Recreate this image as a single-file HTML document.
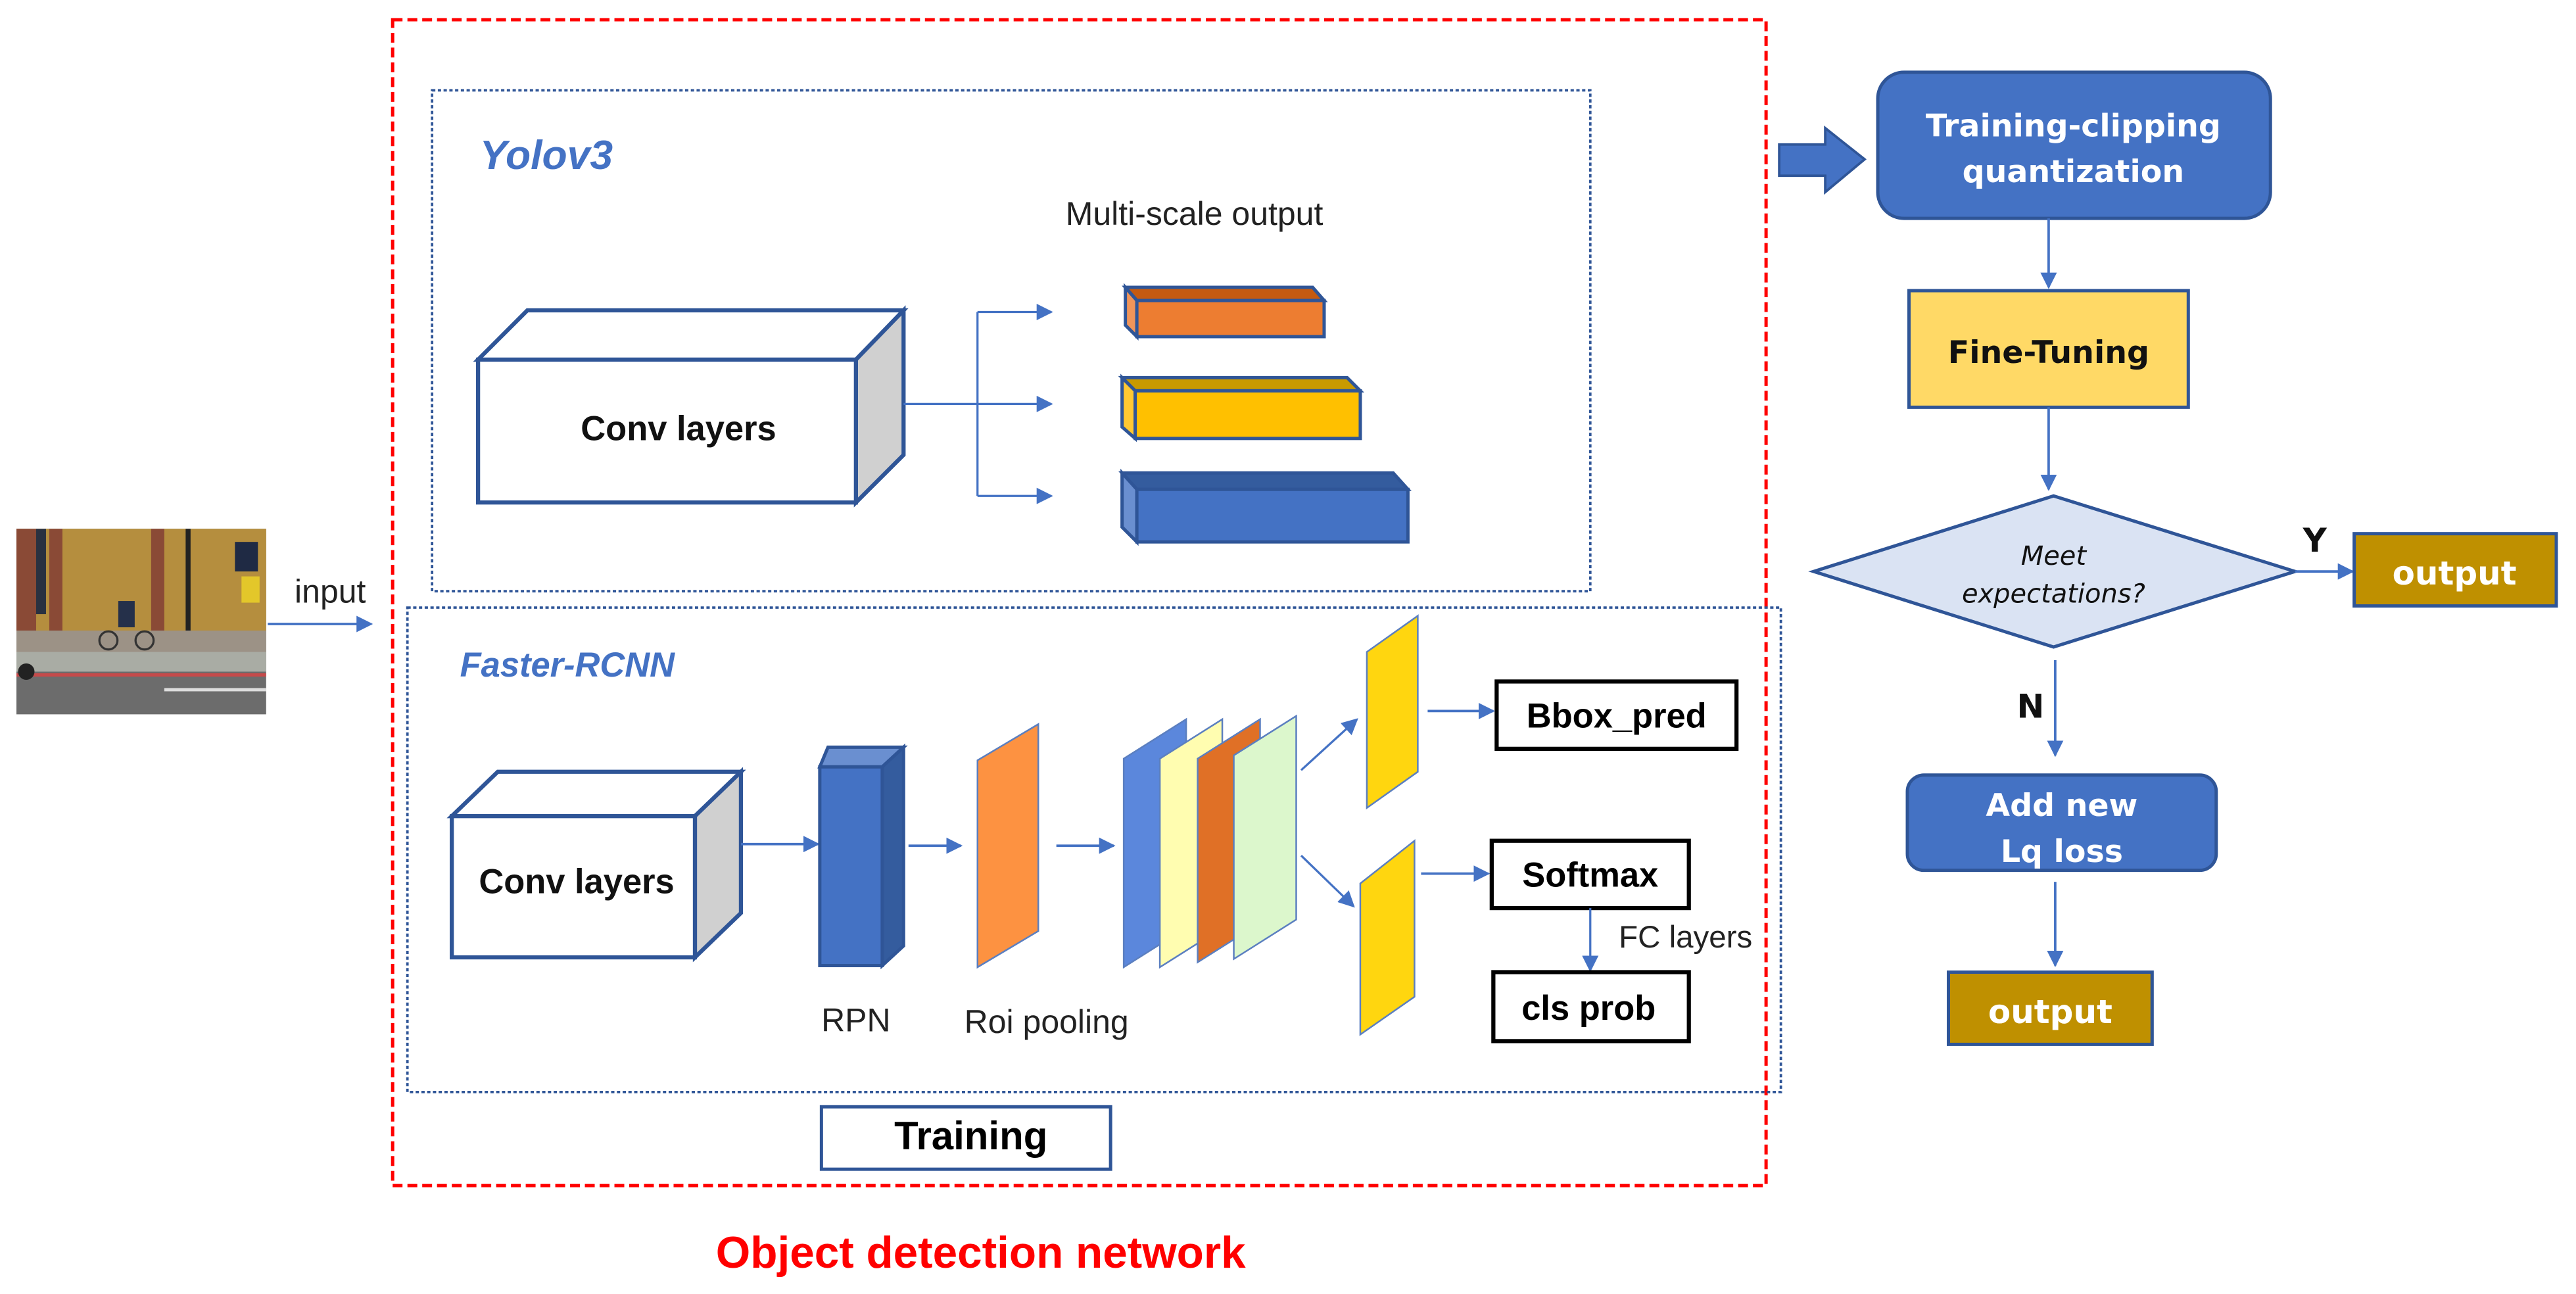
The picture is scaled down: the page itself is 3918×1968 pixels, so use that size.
<!DOCTYPE html>
<html><head><meta charset="utf-8"><style>
html,body{margin:0;padding:0;background:#fff;}
svg{display:block;}
.lib{font-family:"Liberation Sans",sans-serif;}
.dj{font-family:"DejaVu Sans","Liberation Sans",sans-serif;}
</style></head><body>
<svg width="3918" height="1968" viewBox="0 0 1568 788" preserveAspectRatio="none" xmlns="http://www.w3.org/2000/svg">
<defs>
<marker id="ar" markerWidth="10" markerHeight="10" refX="9" refY="5" orient="auto" markerUnits="userSpaceOnUse">
<path d="M0,0 L10,5 L0,10 Z" fill="#4472c4"/></marker>
</defs>
<rect width="1568" height="788" fill="#fff"/>

<!-- photo -->
<g>
<rect x="10" y="322" width="152" height="113" fill="#6c6c6c"/>
<rect x="10" y="322" width="152" height="62" fill="#b58e3e"/>
<rect x="10" y="322" width="12" height="62" fill="#8a4a36"/>
<rect x="22" y="322" width="6" height="52" fill="#2a3140"/>
<rect x="30" y="322" width="8" height="62" fill="#8a4a36"/>
<rect x="92" y="322" width="8" height="62" fill="#8a4a36"/>
<rect x="143" y="330" width="14" height="18" fill="#1f2a44"/>
<rect x="113" y="322" width="3" height="66" fill="#222"/>
<rect x="147" y="351" width="11" height="16" fill="#e3c72a"/>
<rect x="10" y="384" width="152" height="13" fill="#9c9286"/>
<rect x="10" y="397" width="152" height="12" fill="#a9aca4"/>
<rect x="10" y="410" width="152" height="2" fill="#c64a4a"/>
<rect x="100" y="419" width="62" height="2" fill="#ddd"/>
<circle cx="66" cy="390" r="5.5" fill="none" stroke="#333" stroke-width="1.3"/>
<circle cx="88" cy="390" r="5.5" fill="none" stroke="#333" stroke-width="1.3"/>
<rect x="72" y="366" width="10" height="16" fill="#25304a"/>
<circle cx="16" cy="409" r="5" fill="#222"/>
</g>
<line x1="163" y1="380" x2="226" y2="380" stroke="#4472c4" stroke-width="1.5" marker-end="url(#ar)"/>
<text x="201" y="367" font-size="20" text-anchor="middle" class="lib" fill="#222">input</text>

<!-- red dashed box -->
<rect x="239" y="12" width="836" height="710" fill="none" stroke="#ff0000" stroke-width="2" stroke-dasharray="6,3"/>
<!-- yolo box -->
<rect x="263" y="55" width="705" height="305" fill="none" stroke="#2f5597" stroke-width="1.5" stroke-dasharray="2,1.5"/>
<text x="292" y="103" font-size="25" font-weight="bold" font-style="italic" class="lib" fill="#4472c4">Yolov3</text>
<text x="727" y="137" font-size="20" text-anchor="middle" class="lib" fill="#222">Multi-scale output</text>

<!-- yolo conv -->
<polygon points="291,219 321,189 550,189 521,219" fill="#fff" stroke="#2f5597" stroke-width="2.5"/>
<polygon points="521,219 550,189 550,277 521,306" fill="#d0d0d0" stroke="#2f5597" stroke-width="2.5"/>
<rect x="291" y="219" width="230" height="87" fill="#fff" stroke="#2f5597" stroke-width="2.5"/>
<text x="413" y="268" font-size="21" font-weight="bold" text-anchor="middle" class="lib" fill="#111">Conv layers</text>
<line x1="550" y1="246" x2="595" y2="246" stroke="#4472c4" stroke-width="1.3"/>
<line x1="595" y1="190" x2="595" y2="302" stroke="#4472c4" stroke-width="1.3"/>
<line x1="595" y1="190" x2="640" y2="190" stroke="#4472c4" stroke-width="1.3" marker-end="url(#ar)"/>
<line x1="595" y1="246" x2="640" y2="246" stroke="#4472c4" stroke-width="1.3" marker-end="url(#ar)"/>
<line x1="595" y1="302" x2="640" y2="302" stroke="#4472c4" stroke-width="1.3" marker-end="url(#ar)"/>

<!-- multi-scale blocks -->
<g stroke="#2f5597" stroke-width="2">
<polygon points="685,175 799,175 806,183 692,183" fill="#c55a11"/>
<polygon points="685,175 692,183 692,205 685,198" fill="#f0955a"/>
<rect x="692" y="183" width="114" height="22" fill="#ed7d31"/>
<polygon points="683,230 820,230 828,238 691,238" fill="#c99a00"/>
<polygon points="683,230 691,238 691,267 683,260" fill="#ffc832"/>
<rect x="691" y="238" width="137" height="29" fill="#ffc000"/>
<polygon points="683,288 848,288 857,298 692,298" fill="#345c9e"/>
<polygon points="683,288 692,298 692,330 683,321" fill="#6a8fd0"/>
<rect x="692" y="298" width="165" height="32" fill="#4472c4"/>
</g>

<!-- faster box -->
<rect x="248" y="370" width="836" height="295" fill="none" stroke="#2f5597" stroke-width="1.5" stroke-dasharray="2,1.5"/>
<text x="280" y="412" font-size="21" font-weight="bold" font-style="italic" class="lib" fill="#4472c4">Faster-RCNN</text>

<!-- faster conv -->
<polygon points="275,497 303,470 451,470 423,497" fill="#fff" stroke="#2f5597" stroke-width="2.5"/>
<polygon points="423,497 451,470 451,556 423,583" fill="#d0d0d0" stroke="#2f5597" stroke-width="2.5"/>
<rect x="275" y="497" width="148" height="86" fill="#fff" stroke="#2f5597" stroke-width="2.5"/>
<text x="351" y="544" font-size="21" font-weight="bold" text-anchor="middle" class="lib" fill="#111">Conv layers</text>
<line x1="451" y1="514" x2="498" y2="514" stroke="#4472c4" stroke-width="1.5" marker-end="url(#ar)"/>

<!-- RPN -->
<polygon points="499,467 504,455 550,455 537,467" fill="#6a8fd0" stroke="#2f5597" stroke-width="2"/>
<polygon points="537,467 550,455 550,576 537,588" fill="#345c9e" stroke="#2f5597" stroke-width="2"/>
<rect x="499" y="467" width="38" height="121" fill="#4472c4" stroke="#2f5597" stroke-width="2"/>
<text x="521" y="628" font-size="20" text-anchor="middle" class="lib" fill="#222">RPN</text>
<line x1="553" y1="515" x2="585" y2="515" stroke="#4472c4" stroke-width="1.5" marker-end="url(#ar)"/>

<polygon points="595,463 632,441 632,567 595,589" fill="#fd9241" stroke="#5b7fc0" stroke-width="1"/>
<text x="637" y="629" font-size="20" text-anchor="middle" class="lib" fill="#222">Roi pooling</text>
<line x1="643" y1="515" x2="678" y2="515" stroke="#4472c4" stroke-width="1.5" marker-end="url(#ar)"/>

<g stroke="#5b7fc0" stroke-width="1">
<polygon points="684,462 722,438 722,565 684,589" fill="#5b87dc"/>
<polygon points="706,462 744,438 744,565 706,589" fill="#fffdb0"/>
<polygon points="729,462 767,438 767,562 729,586" fill="#e07026"/>
<polygon points="751,460 789,436 789,560 751,584" fill="#dcf7cc"/>
</g>
<line x1="792" y1="469" x2="826" y2="438" stroke="#4472c4" stroke-width="1.3" marker-end="url(#ar)"/>
<line x1="792" y1="521" x2="824" y2="552" stroke="#4472c4" stroke-width="1.3" marker-end="url(#ar)"/>
<polygon points="832,397 863,375 863,470 832,492" fill="#ffd60f" stroke="#5b7fc0" stroke-width="1"/>
<polygon points="828,538 861,512 861,607 828,630" fill="#ffd60f" stroke="#5b7fc0" stroke-width="1"/>
<line x1="869" y1="433" x2="909" y2="433" stroke="#4472c4" stroke-width="1.5" marker-end="url(#ar)"/>
<line x1="865" y1="532" x2="906" y2="532" stroke="#4472c4" stroke-width="1.5" marker-end="url(#ar)"/>
<rect x="911" y="415" width="146" height="41" fill="#fff" stroke="#000" stroke-width="2.5"/>
<text x="984" y="443" font-size="21" font-weight="bold" text-anchor="middle" class="lib">Bbox_pred</text>
<rect x="908" y="512" width="120" height="41" fill="#fff" stroke="#000" stroke-width="2.5"/>
<text x="968" y="540" font-size="21" font-weight="bold" text-anchor="middle" class="lib">Softmax</text>
<line x1="968" y1="553" x2="968" y2="591" stroke="#4472c4" stroke-width="1.3" marker-end="url(#ar)"/>
<text x="1026" y="577" font-size="19" text-anchor="middle" class="lib" fill="#222">FC layers</text>
<rect x="909" y="592" width="119" height="42" fill="#fff" stroke="#000" stroke-width="2.5"/>
<text x="967" y="621" font-size="21" font-weight="bold" text-anchor="middle" class="lib">cls prob</text>

<rect x="500" y="674" width="176" height="38" fill="#fff" stroke="#2f5597" stroke-width="2"/>
<text x="591" y="700" font-size="24" font-weight="bold" text-anchor="middle" class="lib">Training</text>
<text x="597" y="772" font-size="27" font-weight="bold" text-anchor="middle" class="lib" fill="#ff0000">Object detection network</text>

<!-- right flow -->
<polygon points="1083,88 1111,88 1111,78 1135,97 1111,117 1111,107 1083,107" fill="#4472c4" stroke="#2f5597" stroke-width="1.5"/>
<rect x="1143" y="44" width="239" height="89" rx="16" fill="#4472c4" stroke="#2f5597" stroke-width="2"/>
<text x="1262" y="83" font-size="19" font-weight="bold" text-anchor="middle" class="dj" fill="#fff">Training-clipping</text>
<text x="1262" y="111" font-size="19" font-weight="bold" text-anchor="middle" class="dj" fill="#fff">quantization</text>
<line x1="1247" y1="133" x2="1247" y2="175" stroke="#4472c4" stroke-width="1.5" marker-end="url(#ar)"/>
<rect x="1162" y="177" width="170" height="71" fill="#ffd966" stroke="#2f5597" stroke-width="2"/>
<text x="1247" y="221" font-size="19" font-weight="bold" text-anchor="middle" class="dj" fill="#111">Fine-Tuning</text>
<line x1="1247" y1="248" x2="1247" y2="298" stroke="#4472c4" stroke-width="1.5" marker-end="url(#ar)"/>
<polygon points="1104,348 1250,302 1397,348 1250,394" fill="#dae3f3" stroke="#2f5597" stroke-width="2"/>
<text x="1250" y="344" font-size="16" font-style="italic" text-anchor="middle" class="dj" fill="#111">Meet</text>
<text x="1250" y="367" font-size="16" font-style="italic" text-anchor="middle" class="dj" fill="#111">expectations?</text>
<line x1="1397" y1="348" x2="1432" y2="348" stroke="#4472c4" stroke-width="1.5" marker-end="url(#ar)"/>
<text x="1409" y="336" font-size="20" font-weight="bold" text-anchor="middle" class="dj" fill="#111">Y</text>
<rect x="1433" y="325" width="123" height="44" fill="#bf9000" stroke="#2f5597" stroke-width="2"/>
<text x="1494" y="356" font-size="20" font-weight="bold" text-anchor="middle" class="dj" fill="#fff">output</text>
<line x1="1251" y1="402" x2="1251" y2="460" stroke="#4472c4" stroke-width="1.5" marker-end="url(#ar)"/>
<text x="1236" y="437" font-size="20" font-weight="bold" text-anchor="middle" class="dj" fill="#111">N</text>
<rect x="1161" y="472" width="188" height="58" rx="10" fill="#4472c4" stroke="#2f5597" stroke-width="2"/>
<text x="1255" y="497" font-size="19" font-weight="bold" text-anchor="middle" class="dj" fill="#fff">Add new</text>
<text x="1255" y="525" font-size="19" font-weight="bold" text-anchor="middle" class="dj" fill="#fff">Lq loss</text>
<line x1="1251" y1="537" x2="1251" y2="588" stroke="#4472c4" stroke-width="1.5" marker-end="url(#ar)"/>
<rect x="1186" y="592" width="124" height="44" fill="#bf9000" stroke="#2f5597" stroke-width="2"/>
<text x="1248" y="623" font-size="20" font-weight="bold" text-anchor="middle" class="dj" fill="#fff">output</text>
</svg>
</body></html>
